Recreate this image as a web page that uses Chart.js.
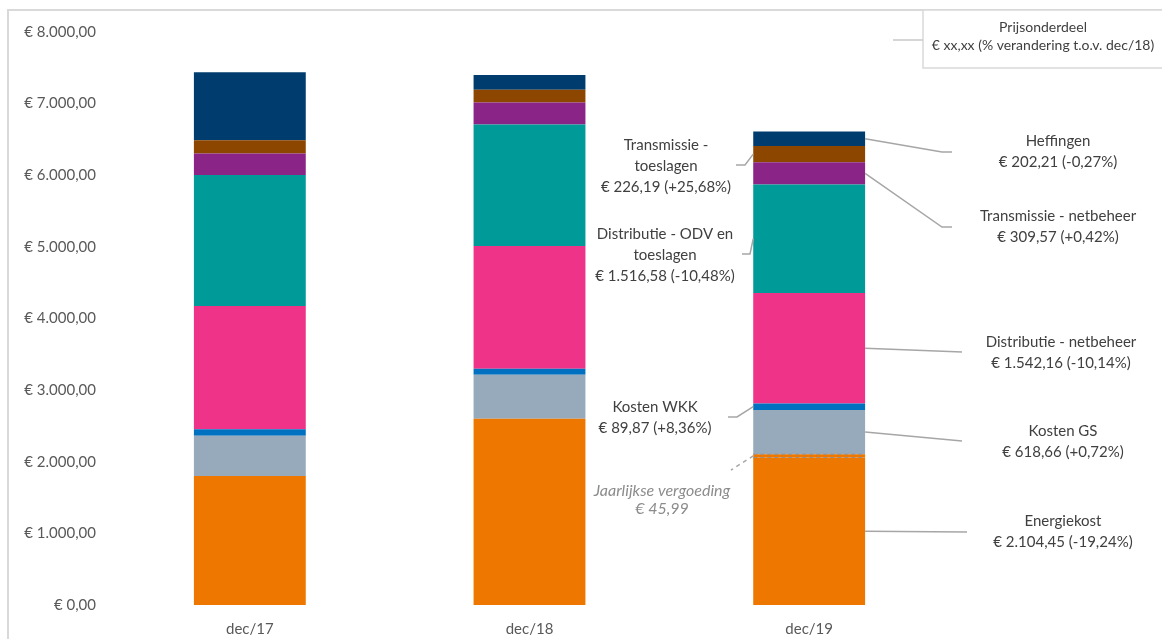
<!DOCTYPE html>
<html>
<head>
<meta charset="utf-8">
<script src="https://cdn.jsdelivr.net/npm/chart.js@4"></script>
<style>
  html,body{margin:0;padding:0;background:#fff;overflow:hidden;}
  #wrap{position:relative;width:1162px;height:639px;}
  #frame{position:absolute;left:7px;top:9px;width:1200px;height:700px;border-left:2px solid #d9d9d9;border-top:2px solid #d9d9d9;}
  canvas{position:absolute;left:0;top:0;}
</style>
</head>
<body>
<div id="wrap"><div id="frame"></div><canvas id="c" width="1162" height="639"></canvas></div>
<script>
// ---- data ----
const categories = ['dec/17', 'dec/18', 'dec/19'];
const energiekost = [1801, 2600, 2058.46];
const jaarlijkseVergoeding = [0, 0, 45.99];
const kostenGS = [563, 614, 618.66];
const kostenWKK = [90, 83, 89.87];
const distributieNetbeheer = [1722, 1716, 1542.16];
const distributieODV = [1828, 1694, 1516.58];
const transmissieNetbeheer = [300, 308, 309.57];
const transmissieToeslagen = [185, 180, 226.19];
const heffingen = [950, 203, 202.21];
const yTicks = [0, 1000, 2000, 3000, 4000, 5000, 6000, 7000, 8000];

const seriesNames = ['Energiekost','Jaarlijkse vergoeding','Kosten GS','Kosten WKK','Distributie - netbeheer','Distributie - ODV en toeslagen','Transmissie - netbeheer','Transmissie - toeslagen','Heffingen'];
const seriesData = [energiekost, jaarlijkseVergoeding, kostenGS, kostenWKK, distributieNetbeheer, distributieODV, transmissieNetbeheer, transmissieToeslagen, heffingen];
const seriesColors = ['#EE7700','rgba(238,119,0,1)','#96AABB','#0070C0','#EF3388','#009A99','#8A2486','#8C4600','#003D6E'];

// annotation texts (dec/19)
const labelTexts = {
  'Heffingen': ['Heffingen', '€ 202,21 (-0,27%)'],
  'Transmissie - netbeheer': ['Transmissie - netbeheer', '€ 309,57 (+0,42%)'],
  'Distributie - netbeheer': ['Distributie - netbeheer', '€ 1.542,16 (-10,14%)'],
  'Kosten GS': ['Kosten GS', '€ 618,66 (+0,72%)'],
  'Energiekost': ['Energiekost', '€ 2.104,45 (-19,24%)'],
  'Transmissie - toeslagen': ['Transmissie -', 'toeslagen', '€ 226,19 (+25,68%)'],
  'Distributie - ODV en toeslagen': ['Distributie - ODV en', 'toeslagen', '€ 1.516,58 (-10,48%)'],
  'Kosten WKK': ['Kosten WKK', '€ 89,87 (+8,36%)'],
  'Jaarlijkse vergoeding': ['Jaarlijkse vergoeding', '€ 45,99']
};
const legendLines = ['Prijsonderdeel', '€ xx,xx (% verandering t.o.v. dec/18)'];

// layout of annotations (pixel placement of text / leader elbows)
const annLayout = [
  {s:'Heffingen', elbow:[942,152], end:[952,152], tx:1058, ty:141},
  {s:'Transmissie - netbeheer', elbow:[942,227], end:[952,227], tx:1058, ty:216},
  {s:'Distributie - netbeheer', elbow:[962,352], end:[962,352], tx:1061, ty:342},
  {s:'Kosten GS', elbow:[962,441], end:[962,441], tx:1063, ty:431},
  {s:'Energiekost', elbow:[967,532], end:[967,532], tx:1063, ty:521},
  {s:'Transmissie - toeslagen', left:true, elbow:[745,165], end:[736,165], tx:666, ty:145},
  {s:'Distributie - ODV en toeslagen', left:true, elbow:[750,254], end:[742,254], tx:665, ty:234},
  {s:'Kosten WKK', left:true, elbow:[737,417], end:[728,417], tx:655, ty:407},
  {s:'Jaarlijkse vergoeding', left:true, dashed:true, italic:true, elbow:[731,470], end:[731,470], tx:662, ty:491}
];

function fmtEuro(v){
  const parts = v.toFixed(2).split('.');
  const int = parts[0].replace(/\B(?=(\d{3})+(?!\d))/g, '.');
  return '€ ' + int + ',' + parts[1];
}

const FONT = 'Lato, "Open Sans", sans-serif';

const annotPlugin = {
  id: 'annot',
  afterDatasetsDraw(chart){
    const ctx = chart.ctx;
    const last = categories.length - 1;
    // dashed outline of Jaarlijkse vergoeding
    const vi = seriesNames.indexOf('Jaarlijkse vergoeding');
    const vel = chart.getDatasetMeta(vi).data[last];
    ctx.save();
    ctx.strokeStyle = '#9a8f86';
    ctx.lineWidth = 1;
    ctx.setLineDash([4,3]);
    ctx.beginPath();
    ctx.moveTo(vel.x - vel.width/2, vel.y); ctx.lineTo(vel.x + vel.width/2, vel.y);
    ctx.moveTo(vel.x - vel.width/2, vel.base); ctx.lineTo(vel.x + vel.width/2, vel.base);
    ctx.stroke();
    ctx.restore();

    annLayout.forEach(a => {
      const di = seriesNames.indexOf(a.s);
      const el = chart.getDatasetMeta(di).data[last];
      const sx = a.left ? el.x - el.width/2 : el.x + el.width/2;
      const sy = (el.y + el.base)/2;
      ctx.save();
      ctx.strokeStyle = '#a6a6a6';
      ctx.lineWidth = 1.5;
      if (a.dashed) ctx.setLineDash([4,4]);
      ctx.beginPath();
      ctx.moveTo(sx, sy);
      ctx.lineTo(a.elbow[0], a.elbow[1]);
      ctx.lineTo(a.end[0], a.end[1]);
      ctx.stroke();
      ctx.restore();
      const lines = labelTexts[a.s];
      ctx.save();
      ctx.font = (a.italic ? 'italic 16px ' : '15px ') + FONT;
      ctx.fillStyle = a.italic ? '#8c8c8c' : '#404040';
      ctx.textAlign = 'center';
      ctx.textBaseline = 'middle';
      lines.forEach((t, i) => ctx.fillText(t, a.tx, a.ty + i * (a.italic ? 18 : 21)));
      ctx.restore();
    });

    // legend box
    ctx.save();
    ctx.fillStyle = '#fff';
    ctx.strokeStyle = '#d9d9d9';
    ctx.lineWidth = 1.5;
    ctx.fillRect(923, 10, 260, 58);
    ctx.strokeRect(923, 10, 260, 58);
    ctx.strokeStyle = '#c8c8c8';
    ctx.beginPath(); ctx.moveTo(893, 40); ctx.lineTo(923, 40); ctx.stroke();
    ctx.fillStyle = '#404040';
    ctx.font = '14px ' + FONT;
    ctx.textAlign = 'center';
    ctx.textBaseline = 'middle';
    ctx.fillText(legendLines[0], 1043, 27);
    ctx.fillText(legendLines[1], 1043, 45);
    ctx.restore();
  }
};

new Chart(document.getElementById('c'), {
  type: 'bar',
  data: {
    labels: categories,
    datasets: seriesNames.map((n, i) => ({
      label: n,
      data: seriesData[i],
      backgroundColor: seriesColors[i],
      borderWidth: 0,
      barPercentage: 0.4,
      categoryPercentage: 1.0
    }))
  },
  options: {
    responsive: false,
    animation: false,
    devicePixelRatio: 1,
    layout: { padding: { left: 0, right: 213, top: 32, bottom: 0 } },
    plugins: { legend: { display: false }, tooltip: { enabled: false } },
    scales: {
      x: {
        stacked: true,
        grid: { display: false, drawTicks: false },
        border: { display: false },
        ticks: { color: '#595959', font: { family: FONT, size: 15 }, padding: 15 },
        afterFit(s){ s.height = 34; }
      },
      y: {
        stacked: true,
        min: 0, max: 8000,
        afterBuildTicks(s){ s.ticks = yTicks.map(v => ({ value: v })); },
        grid: { display: false, drawTicks: false },
        border: { display: false },
        ticks: { color: '#595959', font: { family: FONT, size: 15 }, padding: 14, callback: v => fmtEuro(v) },
        afterFit(s){ s.width = 110; }
      }
    }
  },
  plugins: [annotPlugin]
});
</script>
</body>
</html>
